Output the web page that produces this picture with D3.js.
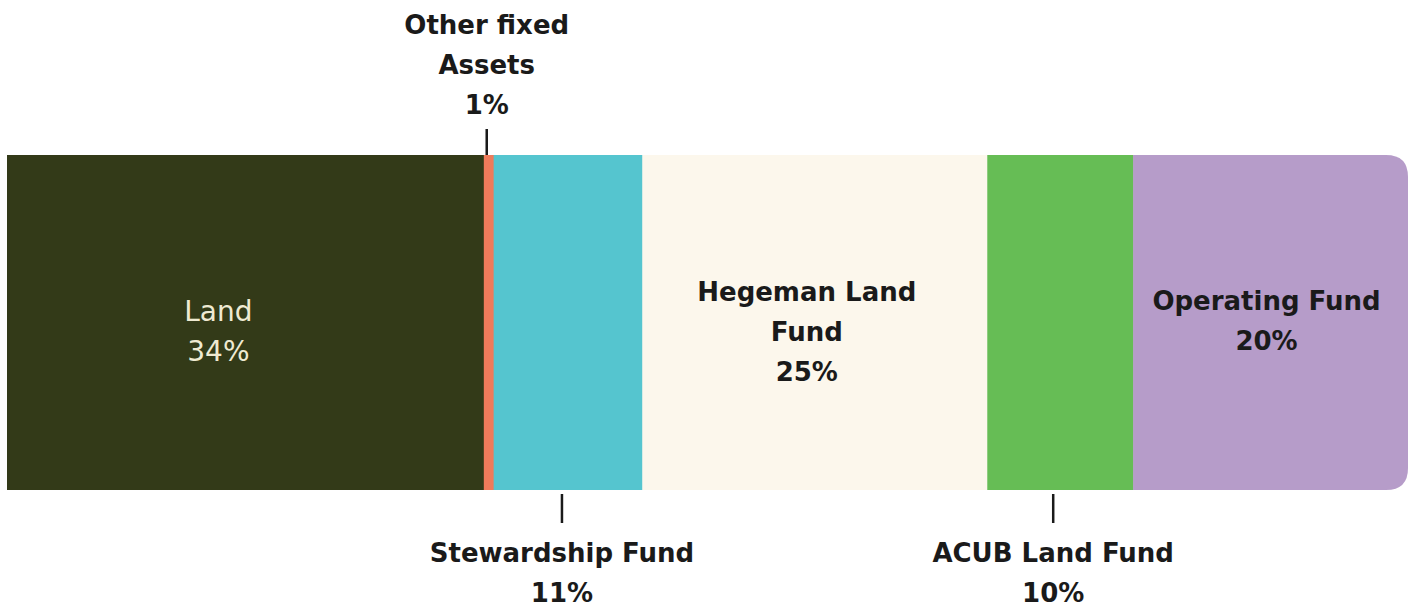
<!DOCTYPE html>
<html>
<head>
<meta charset="utf-8">
<script src="https://cdnjs.cloudflare.com/ajax/libs/d3/7.8.5/d3.min.js"></script>
<style>
  body { margin: 0; background: #fff; }
  text { font-family: "DejaVu Sans", sans-serif; }
</style>
</head>
<body>
<script>
var categories = ["Land", "Other fixed Assets", "Stewardship Fund", "Hegeman Land Fund", "ACUB Land Fund", "Operating Fund"];
var values = [34.0, 0.7, 10.6, 24.6, 10.4, 19.6];
var percentLabels = ["34%", "1%", "11%", "25%", "10%", "20%"];
var colors = ["#333a18", "#ef7b5b", "#55c5cf", "#fcf7ec", "#66bd55", "#b69cc9"];

// how each label is placed: inside the bar, above it with a tick, or below it with a tick
var labelLines = [["Land"], ["Other fixed", "Assets"], ["Stewardship Fund"], ["Hegeman Land", "Fund"], ["ACUB Land Fund"], ["Operating Fund"]];
var placement = ["inside", "top", "bottom", "inside", "bottom", "inside"];
var textColor = ["#efead2", "#1a1a1a", "#1a1a1a", "#1a1a1a", "#1a1a1a", "#1a1a1a"];
var nudgeX = [-27, -2, -6, -8, -7, -4];
var nudgeY = [9, 0, 0, 9, 0, -2];

var width = 1411, height = 607;
var barTop = 155, barBottom = 490, radius = 22;

var svg = d3.select("body")
            .append("svg")
            .attr('width', width)
            .attr('height', height);

var stack = [];
var acc = 0;
values.forEach(function(v, i){
    stack.push({i: i, x0: acc, x1: acc + v});
    acc += v;
});

var xScale = d3.scaleLinear()
               .domain([0, acc])
               .range([7, 1408]);

// clip so only the right end gets rounded corners
svg.append("clipPath")
   .attr('id', "barclip")
   .append("path")
   .attr('d', function(){
       var l = xScale(0), r = xScale(acc), t = barTop, b = barBottom;
       return "M" + l + "," + t + "H" + (r - radius) +
              "Q" + r + "," + t + " " + r + "," + (t + radius) +
              "V" + (b - radius) +
              "Q" + r + "," + b + " " + (r - radius) + "," + b +
              "H" + l + "Z";
   });

svg.append("g")
   .attr('clip-path', "url(#barclip)")
   .selectAll("rect")
   .data(stack)
   .enter()
   .append("rect")
   .attr('x', function(d){ return xScale(d.x0); })
   .attr('y', barTop)
   .attr('width', function(d){ return xScale(d.x1) - xScale(d.x0) + 0.5; })
   .attr('height', barBottom - barTop)
   .attr('fill', function(d){ return colors[d.i]; });

var fontSize = 26, lineH = 40;

stack.forEach(function(d){
    var i = d.i;
    var cx = (xScale(d.x0) + xScale(d.x1)) / 2 + nudgeX[i];
    var lines = labelLines[i].concat([percentLabels[i]]);
    var startY;
    if (placement[i] === "inside") {
        startY = (barTop + barBottom) / 2 - (lines.length - 1) * lineH / 2 + nudgeY[i];
    } else if (placement[i] === "top") {
        startY = 25;
        svg.append("line")
           .attr('x1', cx).attr('x2', cx)
           .attr('y1', 129).attr('y2', barTop)
           .attr('stroke', "#1a1a1a").attr('stroke-width', 2.5);
    } else {
        startY = 553;
        svg.append("line")
           .attr('x1', cx).attr('x2', cx)
           .attr('y1', 494).attr('y2', 523)
           .attr('stroke', "#1a1a1a").attr('stroke-width', 2.5);
    }
    var t = svg.append("text")
       .attr('text-anchor', "middle")
       .attr('fill', textColor[i])
       .style('font-size', (i === 0 ? 28 : fontSize) + "px")
       .style('font-weight', i === 0 ? "normal" : "bold");
    lines.forEach(function(s, k){
        t.append("tspan")
         .attr('x', cx)
         .attr('y', startY + k * lineH)
         .attr('dy', "0.35em")
         .text(s);
    });
});
</script>
</body>
</html>
